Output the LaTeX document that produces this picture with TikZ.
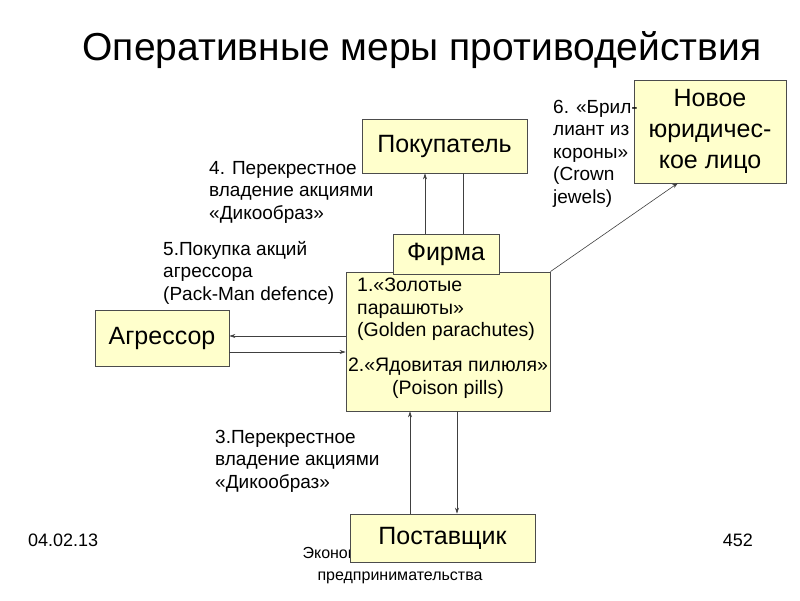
\documentclass[tikz,border=0pt]{standalone}
\usepackage{fontspec}
\setmainfont{Liberation Sans}
\usetikzlibrary{arrows.meta}
\definecolor{boxy}{HTML}{FFFFCC}
\begin{document}
\begin{tikzpicture}[x=1pt,y=-1pt,
  bx/.style={draw=black!70,fill=boxy,line width=0.8pt,inner sep=0pt,font=\fontsize{25}{28}\selectfont},
  lbl/.style={align=left,anchor=north west,inner sep=0pt,font=\fontsize{19}{22.5}\selectfont},
  ar/.style={draw=black!75,line width=0.6pt,-{Stealth[length=6pt,width=4pt]}},
  ln/.style={draw=black!75,line width=0.6pt}]
\useasboundingbox (0,0) rectangle (800,600);
\fill[white] (0,0) rectangle (800,600);
\node[font=\fontsize{39}{44}\selectfont] (title) at (422,50) {Оперативные меры противодействия};
\node[font=\fontsize{18}{20}\selectfont,anchor=west,inner sep=0pt] (date) at (28,540) {04.02.13};
\node[font=\fontsize{18}{20}\selectfont,anchor=east,inner sep=0pt] (num) at (753,540) {452};
\node[font=\fontsize{16}{22}\selectfont,align=center] (foot) at (400,566) {Экономика предприятия и\\предпринимательства};
\node[bx,minimum width=165pt,minimum height=54pt] (buy) at (444.5,146) {Покупатель};
\node[bx,minimum width=152pt,minimum height=103pt,align=center,font=\fontsize{25}{31}\selectfont] (new) at (710,131.5) {Новое\\юридичес-\\кое лицо};
\node[bx,minimum width=204pt,minimum height=139pt] (big) at (448,341.5) {};
\node[align=left,anchor=north west,inner sep=0pt,font=\fontsize{19.5}{22.5}\selectfont] (t1) at (357,278) {1.«Золотые\\парашюты»\\(Golden parachutes)};
\node[align=center,inner sep=0pt,font=\fontsize{19.5}{22.5}\selectfont] (t2) at (448,378) {2.«Ядовитая пилюля»\\(Poison pills)};
\node[bx,minimum width=106pt,minimum height=40pt] (firm) at (446,254) {Фирма};
\node[bx,minimum width=134pt,minimum height=56pt] (agr) at (162,338) {Агрессор};
\node[bx,minimum width=185pt,minimum height=48pt] (sup) at (442.5,538) {Поставщик};
\node[lbl] (l4) at (209,161) {4. Перекрестное\\владение акциями\\«Дикообраз»};
\node[lbl] (l5) at (163,241) {5.Покупка акций\\агрессора\\(Pack-Man defence)};
\node[lbl] (l6) at (553,100) {6. «Брил-\\лиант из\\короны»\\(Crown\\jewels)};
\node[lbl] (l3) at (215,430) {3.Перекрестное\\владение акциями\\«Дикообраз»};
\draw[ar] (firm.north -| 425,0) -- (buy.south -| 425,0);
\draw[ln] (buy.south -| 463,0) -- (firm.north -| 463,0);
\draw[ar] (big.north east) -- (678,183);
\draw[ar] (big.west |- 0,336) -- (agr.east |- 0,336);
\draw[ar] (agr.east |- 0,352) -- (big.west |- 0,352);
\draw[ar] (sup.north -| 410,0) -- (big.south -| 410,0);
\draw[ar] (big.south -| 457,0) -- (sup.north -| 457,0);
\end{tikzpicture}
\end{document}
